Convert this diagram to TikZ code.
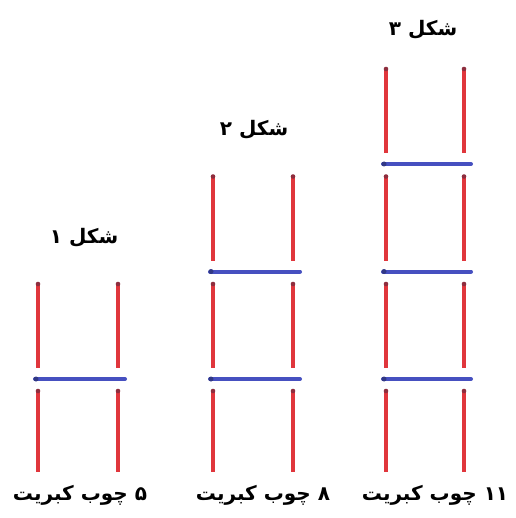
\documentclass[tikz,border=0pt]{standalone}
\usepackage{fontspec}
\newfontfamily\arabicfont[Script=Arabic]{DejaVu Sans}
\TeXXeTstate=1
\definecolor{stickred}{HTML}{E0363C}
\definecolor{stickedge}{HTML}{F3A070}
\definecolor{barblue}{HTML}{4650C0}
\definecolor{headdark}{HTML}{8E2E3E}
\tikzset{
  stick/.style={draw=stickred, line width=3.6pt},
  crossbar/.style={draw=barblue, line width=4pt, line cap=round},
  head/.style={fill=headdark, circle, inner sep=0pt, minimum size=4.6pt},
  bluehead/.style={fill=barblue!70!black, circle, inner sep=0pt, minimum size=5pt},
  lbl/.style={font=\arabicfont\bfseries\fontsize{20}{24}\selectfont, inner sep=0pt}
}
\newcommand{\matchstick}[3]{% x, ytop, ybottom
  \draw[stickedge, line width=4.6pt] (#1,#2) -- (#1,#3);
  \draw[stick] (#1,#2) -- (#1,#3);
  \node[head] at (#1,#2+1) {};
}
\newcommand{\ladder}[3]{% xl, xr, number of bars
  \matchstick{#1}{390}{472}
  \matchstick{#2}{390}{472}
  \foreach \i in {1,...,#3}{
    \pgfmathsetmacro{\by}{379-107.5*(\i-1)}
    \matchstick{#1}{\by-96}{\by-11}
    \matchstick{#2}{\by-96}{\by-11}
    \draw[crossbar] (#1-3,\by) -- (#2+7,\by);
    \node[bluehead] at (#1-2,\by) {};
  }
}
\begin{document}
\begin{tikzpicture}[x=1pt,y=-1pt]
\useasboundingbox[fill=white] (0,0) rectangle (515,518);
\ladder{38}{118}{1}
\ladder{213}{293}{2}
\ladder{386}{464}{3}
\node[lbl] (t1) at (84,238) {\beginR شکل ۱\endR};
\node[lbl] (t2) at (254,130) {\beginR شکل ۲\endR};
\node[lbl] (t3) at (423,30) {\beginR شکل ۳\endR};
\node[lbl] (b1) at (80,495) {\beginR ۵ چوب کبریت\endR};
\node[lbl] (b2) at (263,495) {\beginR ۸ چوب کبریت\endR};
\node[lbl] (b3) at (435,495) {\beginR ۱۱ چوب کبریت\endR};
\end{tikzpicture}
\end{document}
